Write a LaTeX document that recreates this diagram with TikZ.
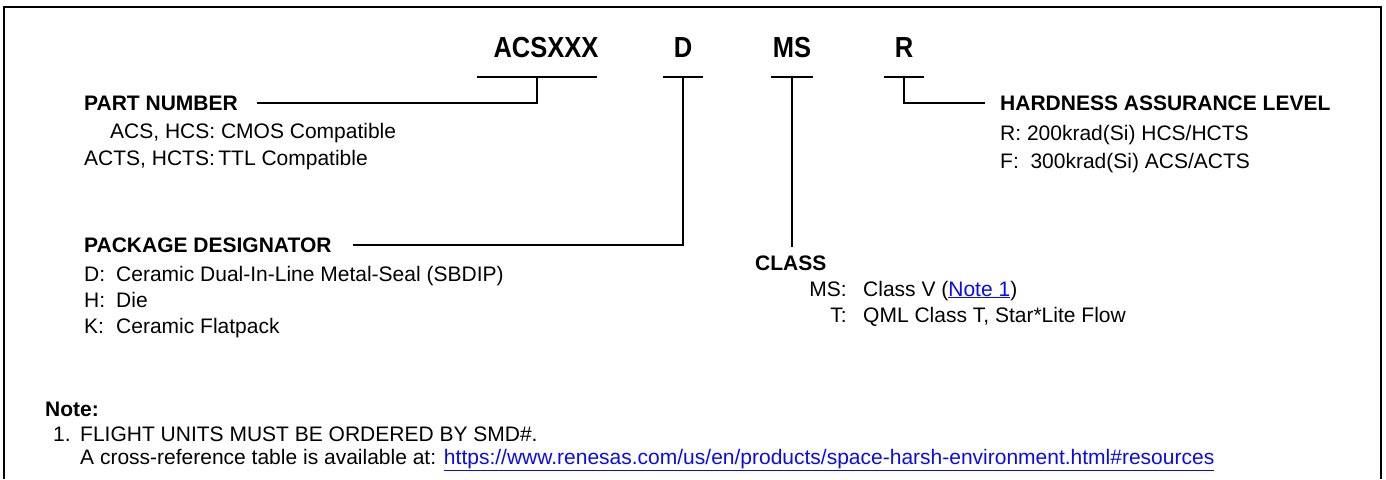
\documentclass[tikz,border=0pt]{standalone}
\usepackage{fontspec}
\setmainfont{Liberation Sans}
\newfontfamily\codefont{Liberation Sans}[FakeStretch=0.88]
\definecolor{linkblue}{RGB}{10,10,240}

\begin{document}
\begin{tikzpicture}[
  x=1pt, y=-1pt,
  every node/.style={inner sep=0pt},
  title/.style={anchor=base, font=\codefont\fontsize{29}{34}\selectfont\bfseries},
  head/.style={anchor=base west, font=\fontsize{21}{25}\selectfont\bfseries},
  body/.style={anchor=base west, font=\fontsize{21}{25}\selectfont},
  key/.style={body, anchor=base east},
  wire/.style={draw, line width=2pt},
  frame/.style={draw, line width=2.5pt}]

  \useasboundingbox (0,0) rectangle (1386,479);
  % open frame, bottom edge lies below the picture
  \draw[frame] (4,479) -- (4,7) -- (1381,7) -- (1381,479);

  %% ---------------- ordering code ----------------
  \node[title] (acs) at (546,57) {ACSXXX};
  \node[title] (pkg) at (683,57) {D};
  \node[title] (cls) at (792,57) {MS};
  \node[title] (hal) at (904,57) {R};
  % bars under the fields
  \coordinate (acsU) at (537,77);
  \coordinate (pkgU) at (683,77);
  \coordinate (clsU) at (792,77);
  \coordinate (halU) at (904,77);
  \draw[wire] ([xshift=-60]acsU) -- ([xshift=60]acsU);
  \draw[wire] ([xshift=-20]pkgU) -- ([xshift=20]pkgU);
  \draw[wire] ([xshift=-21]clsU) -- ([xshift=21]clsU);
  \draw[wire] ([xshift=-20]halU) -- ([xshift=20]halU);

  %% ---------------- part number ----------------
  \node[head] (pn) at (84,110) {PART NUMBER};
  \node[body] (pn1) at (110,138) {ACS, HCS: CMOS Compatible};
  \node[body] (pn2) at (84,165) {ACTS, HCTS:\,TTL Compatible};
  \draw[wire] (acsU) |- ([xshift=19]pn.east);

  %% ---------------- package designator ----------------
  \node[head] (pd) at (84,252) {PACKAGE DESIGNATOR};
  \node[body] (pd1) at (84,281) {\makebox[32pt][l]{D:}Ceramic Dual-In-Line Metal-Seal (SBDIP)};
  \node[body] (pd2) at (84,307) {\makebox[32pt][l]{H:}Die};
  \node[body] (pd3) at (84,333) {\makebox[32pt][l]{K:}Ceramic Flatpack};
  \draw[wire] (pkgU) |- ([xshift=21]pd.east);

  %% ---------------- class ----------------
  \node[head] (ch) at (755,270) {CLASS};
  \node[key]  (ch1k) at (847,296) {MS:};
  \node[body] (ch1) at (863,296) {Class V (\textcolor{linkblue}{\underline{Note 1}})};
  \node[key]  (ch2k) at (847,322) {T:};
  \node[body] (ch2) at (863,322) {QML Class T, Star*Lite Flow};
  \draw[wire] (clsU) -- ([yshift=8pt]clsU |- ch.north);

  %% ---------------- hardness assurance ----------------
  \node[head] (hh) at (1000,110) {HARDNESS ASSURANCE LEVEL};
  \node[body] (hh1) at (1000,140) {R: 200krad(Si) HCS/HCTS};
  \node[body] (hh2) at (1000,168) {F:\ \ 300krad(Si) ACS/ACTS};
  \draw[wire] (halU) |- ([xshift=-15]hh.west);

  %% ---------------- note ----------------
  \node[head] (nt) at (45,416) {Note:};
  \node[body] (nt1) at (53,441) {\makebox[27pt][l]{1.}FLIGHT UNITS MUST BE ORDERED BY SMD\#.};
  \node[body] (nt2) at (80,464) {A cross-reference table is available at: \textcolor{linkblue}{\underline{https://www.renesas.com/us/en/products/space-harsh-environment.html\#resources}}};

\end{tikzpicture}
\end{document}
